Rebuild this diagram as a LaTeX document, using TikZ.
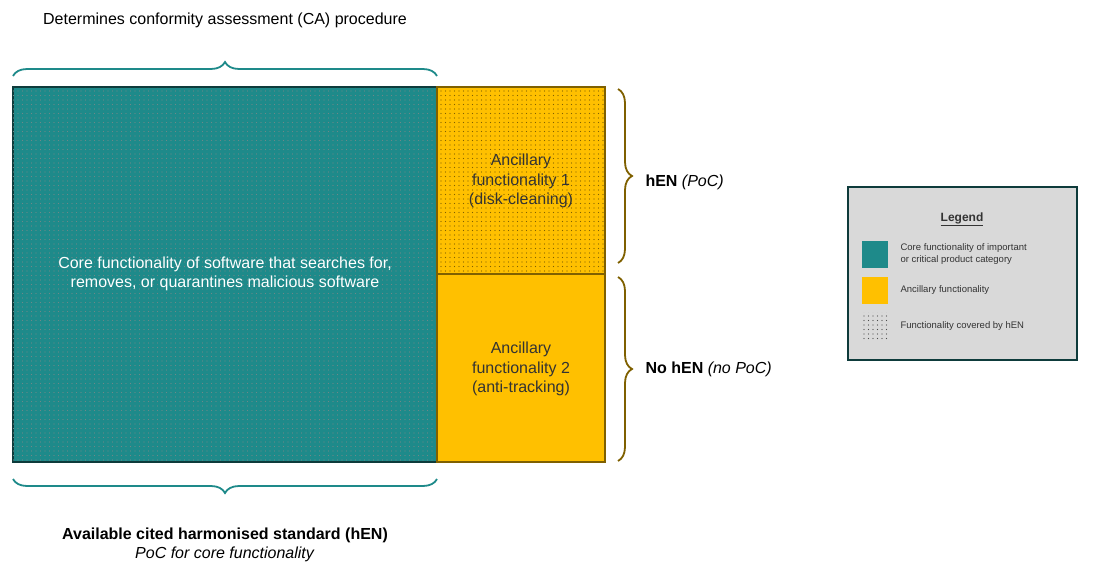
\documentclass[tikz,border=0pt]{standalone}
\usepackage{fontspec}
\setmainfont{Liberation Sans}
\usepackage{xcolor}
\usetikzlibrary{positioning,patterns.meta,decorations.pathreplacing}
\definecolor{coreteal}{HTML}{1E8A8A}
\definecolor{darkteal}{HTML}{0E3B3B}
\definecolor{ancgold}{HTML}{FFC000}
\definecolor{ancbrown}{HTML}{7F6000}
\definecolor{legendgrey}{HTML}{D9D9D9}
\definecolor{txtgrey}{HTML}{333333}

\begin{document}
\begin{tikzpicture}[
    x=1pt, y=-1pt,
    box/.style={draw, line width=1.8pt, align=center, inner sep=0pt},
    core/.style={box, fill=coreteal, draw=darkteal},
    anc/.style={box, fill=ancgold, draw=ancbrown, text=txtgrey},
    dotted fill/.style={pattern={Dots[radius=0.55pt, distance=4.5pt]}, pattern color=#1},
    tbrace/.style={decorate, decoration={brace, amplitude=14pt, aspect=0.5}, line width=1.8pt, draw=coreteal},
    abrace/.style={decorate, decoration={brace, amplitude=14pt}, line width=1.8pt, draw=ancbrown},
    lbl/.style={font=\fontsize{16}{19.5}\selectfont, align=center},
    small/.style={font=\fontsize{9.5}{12}\selectfont, align=left, anchor=west, text=txtgrey}
]
\useasboundingbox (0,0) rectangle (1094,586);

% boxes
\draw[core] (13,87) rectangle (437,462);
\fill[dotted fill=darkteal!60] (13,87) rectangle (437,462);
\node[lbl, text=white] (coretext) at (225,274) {Core functionality of software that searches for,\\removes, or quarantines malicious software};

\draw[anc] (437,87) rectangle (605,274);
\fill[dotted fill=ancbrown] (437,87) rectangle (605,274);
\node[lbl, text=txtgrey] (anca) at (521,181) {Ancillary\\functionality 1\\(disk-cleaning)};
\draw[anc] (437,274) rectangle (605,462);
\node[lbl, text=txtgrey] (ancb) at (521,369) {Ancillary\\functionality 2\\(anti-tracking)};

% braces
\draw[tbrace] (13,76) -- (437,76);
\node[lbl] (ca) at (225,20) {Determines conformity assessment (CA) procedure};
\draw[tbrace] (437,479) -- (13,479);
\node[lbl] (hen) at (225,545) {\textbf{Available cited harmonised standard (hEN)}\\\textit{PoC for core functionality}};
\draw[abrace] (618,89) -- (618,263);
\node[lbl, anchor=west] (poc) at (642,182) {\textbf{hEN} \textit{(PoC)}};
\draw[abrace] (618,277) -- (618,461);
\node[lbl, anchor=west] (nopoc) at (642,369) {\textbf{No hEN} \textit{(no PoC)}};

% legend
\draw[fill=legendgrey, draw=darkteal, line width=2.2pt] (848,187) rectangle (1077,360);
\node[font=\fontsize{12}{14}\selectfont\bfseries, text=txtgrey] (legtitle) at (962,219) {\underline{Legend}};
\fill[coreteal] (862,241) rectangle (888,268);
\node[small] (legcore) at (897,254) {Core functionality of important\\or critical product category};
\fill[ancgold] (862,277) rectangle (888,304);
\node[small] (leganc) at (897,290) {Ancillary functionality};
\fill[dotted fill=black!70] (862,312) rectangle (888,340);
\node[small] (legdot) at (897,326) {Functionality covered by hEN};
\end{tikzpicture}
\end{document}
